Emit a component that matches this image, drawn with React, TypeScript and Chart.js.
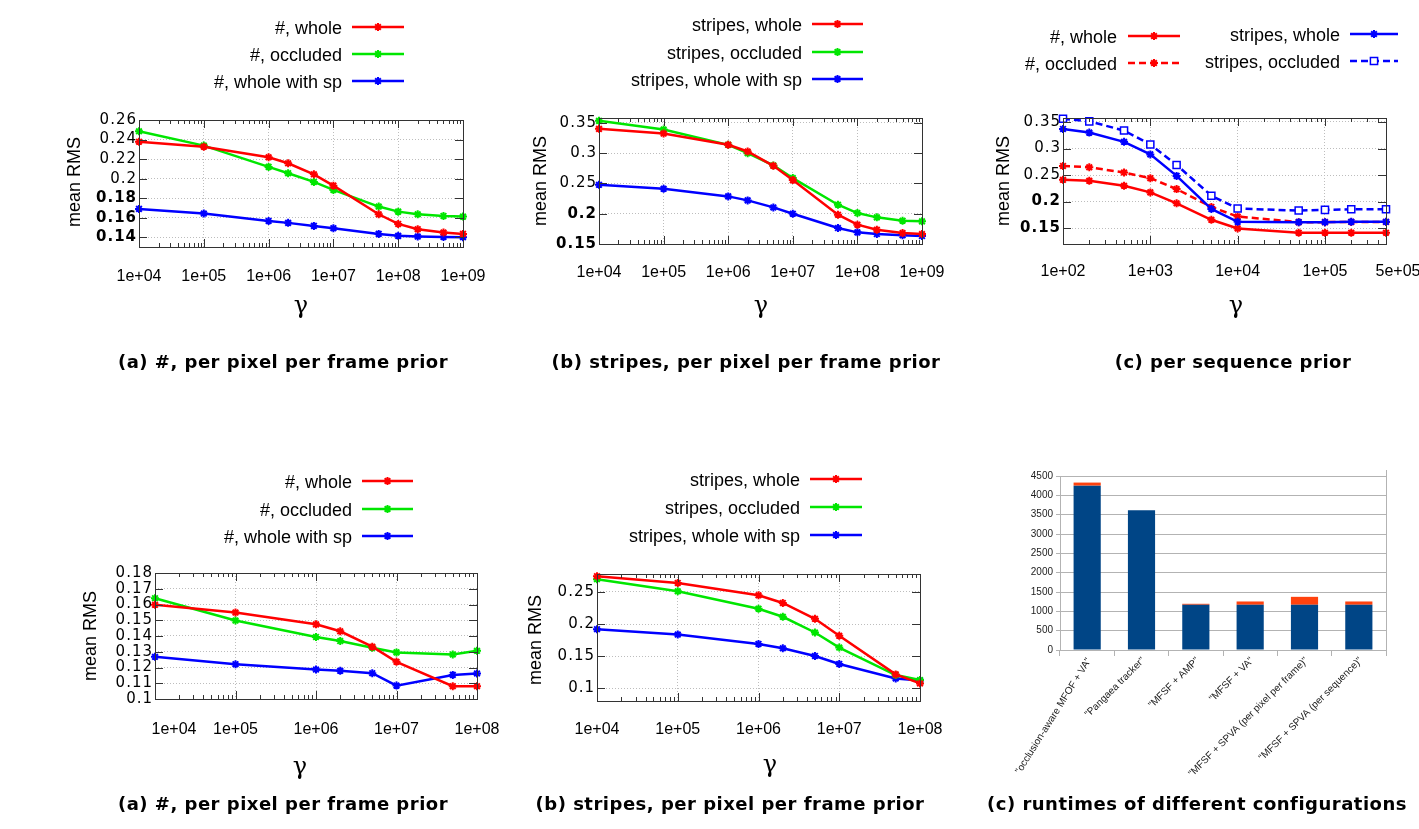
import React, { useEffect, useRef } from 'react';
import { Chart, registerables } from 'chart.js';

Chart.register(...registerables);

// ---------- data ----------
const gammaFrame = [1e4, 1e5, 1e6, 2e6, 5e6, 1e7, 5e7, 1e8, 2e8, 5e8, 1e9];
const hashWholeA = [0.2378, 0.2327, 0.2218, 0.2157, 0.2044, 0.1928, 0.1635, 0.1536, 0.1482, 0.1448, 0.1434];
const hashOccludedA = [0.2484, 0.2338, 0.212, 0.2055, 0.1966, 0.1884, 0.1714, 0.1662, 0.1635, 0.1618, 0.1611];
const hashSpA = [0.169, 0.1642, 0.1567, 0.1547, 0.1516, 0.1492, 0.1434, 0.1414, 0.1407, 0.1403, 0.14];

const stripesWholeB = [0.3401, 0.3324, 0.3137, 0.3027, 0.2791, 0.2555, 0.1984, 0.1819, 0.1736, 0.1681, 0.1665];
const stripesOccludedB = [0.3533, 0.339, 0.3137, 0.3, 0.2797, 0.2588, 0.2148, 0.2011, 0.194, 0.1885, 0.1874];
const stripesSpB = [0.2478, 0.2412, 0.2286, 0.222, 0.2104, 0.2, 0.1764, 0.1692, 0.1665, 0.1643, 0.1632];

const gammaSeq = [100, 200, 500, 1000, 2000, 5000, 1e4, 5e4, 1e5, 2e5, 5e5];
const seqHashWhole = [0.241, 0.2391, 0.2298, 0.2173, 0.1967, 0.1656, 0.1494, 0.1413, 0.1413, 0.1413, 0.1413];
const seqHashOccluded = [0.2671, 0.2646, 0.2547, 0.2441, 0.2235, 0.1899, 0.1718, 0.1612, 0.1612, 0.1615, 0.1615];
const seqStripesWhole = [0.3369, 0.33, 0.3126, 0.2889, 0.2484, 0.1861, 0.1618, 0.1612, 0.1612, 0.1618, 0.1618];
const seqStripesOccluded = [0.3562, 0.3512, 0.3338, 0.3076, 0.269, 0.2111, 0.1868, 0.183, 0.1843, 0.1855, 0.1855];

const gammaFrame2 = [1e4, 1e5, 1e6, 2e6, 5e6, 1e7, 5e7, 1e8];
const hashWholeD = [0.1598, 0.1549, 0.1474, 0.143, 0.1332, 0.1236, 0.1081, 0.1081];
const hashOccludedD = [0.164, 0.1498, 0.1394, 0.1368, 0.1326, 0.1296, 0.1283, 0.1306];
const hashSpD = [0.1268, 0.1221, 0.1187, 0.1179, 0.1164, 0.1085, 0.1153, 0.1162];

const stripesWholeE = [0.2746, 0.2641, 0.2448, 0.2328, 0.2082, 0.1816, 0.1215, 0.1074];
const stripesOccludedE = [0.2699, 0.251, 0.2239, 0.2113, 0.1868, 0.1633, 0.1204, 0.1126];
const stripesSpE = [0.192, 0.1836, 0.169, 0.1622, 0.1502, 0.1377, 0.1152, 0.1121];

const xTicksFrame = [1e4, 1e5, 1e6, 1e7, 1e8, 1e9];
const xLabelsFrame = ['1e+04', '1e+05', '1e+06', '1e+07', '1e+08', '1e+09'];
const xTicksSeq = [1e2, 1e3, 1e4, 1e5, 5e5];
const xLabelsSeq = ['1e+02', '1e+03', '1e+04', '1e+05', '5e+05'];
const xTicksFrame2 = [1e4, 1e5, 1e6, 1e7, 1e8];
const xLabelsFrame2 = ['1e+04', '1e+05', '1e+06', '1e+07', '1e+08'];

const yTicksA = [0.14, 0.16, 0.18, 0.2, 0.22, 0.24, 0.26];
const yLabelsA = ['0.14', '0.16', '0.18', '0.2', '0.22', '0.24', '0.26'];
const yTicksB = [0.15, 0.2, 0.25, 0.3, 0.35];
const yLabelsB = ['0.15', '0.2', '0.25', '0.3', '0.35'];
const yTicksD = [0.1, 0.11, 0.12, 0.13, 0.14, 0.15, 0.16, 0.17, 0.18];
const yLabelsD = ['0.1', '0.11', '0.12', '0.13', '0.14', '0.15', '0.16', '0.17', '0.18'];
const yTicksE = [0.1, 0.15, 0.2, 0.25];
const yLabelsE = ['0.1', '0.15', '0.2', '0.25'];

const configurations = [
  '"occlusion-aware MFOF + VA"',
  '"Pangaea tracker"',
  '"MFSF + AMP"',
  '"MFSF + VA"',
  '"MFSF + SPVA (per pixel per frame)"',
  '"MFSF + SPVA (per sequence)"',
];
const runtimeBase = [4250, 3615, 1170, 1170, 1170, 1170];
const runtimeExtra = [80, 0, 25, 85, 205, 85];
const runtimeTicks = [0, 500, 1000, 1500, 2000, 2500, 3000, 3500, 4000, 4500];
const runtimeTickLabels = ['0', '500', '1000', '1500', '2000', '2500', '3000', '3500', '4000', '4500'];

// ---------- styles / layout ----------
const RED = '#ff0000';
const GREEN = '#00e600';
const BLUE = '#0000ff';
const labelAngles = [58, 45, 45, 45, 45, 45];

type Series = { label: string; values: number[]; color: string; dash?: number[]; point?: string; leg: [number, number, number, number] };
type Panel = {
  box: [number, number, number, number];
  area: [number, number, number, number];
  x: number[];
  xMin: number; xMax: number; xTicks: number[]; xLabels: string[]; xLabelY: number; xShift?: number[];
  yMin: number; yMax: number; yTicks: number[]; yLabels: string[]; yBold: number[];
  yTitle: [number, number]; gamma: [number, number]; title: [string, number, number];
  series: Series[];
};

const panels: Panel[] = [
  {
    box: [0, 0, 495, 400], area: [139, 120, 463, 247], x: gammaFrame,
    xMin: 1e4, xMax: 1e9, xTicks: xTicksFrame, xLabels: xLabelsFrame, xLabelY: 277,
    yMin: 0.13, yMax: 0.26, yTicks: yTicksA, yLabels: yLabelsA, yBold: [1, 1, 1, 0, 0, 0, 0],
    yTitle: [75, 182], gamma: [301, 307], title: ['(a) #, per pixel per frame prior', 283, 363],
    series: [
      { label: '#, whole', values: hashWholeA, color: RED, leg: [342, 352, 404, 27] },
      { label: '#, occluded', values: hashOccludedA, color: GREEN, leg: [342, 352, 404, 54] },
      { label: '#, whole with sp', values: hashSpA, color: BLUE, leg: [342, 352, 404, 81] },
    ],
  },
  {
    box: [495, 0, 485, 400], area: [599, 118, 922, 244], x: gammaFrame,
    xMin: 1e4, xMax: 1e9, xTicks: xTicksFrame, xLabels: xLabelsFrame, xLabelY: 273,
    yMin: 0.15, yMax: 0.358, yTicks: yTicksB, yLabels: yLabelsB, yBold: [1, 1, 0, 0, 0],
    yTitle: [541, 181], gamma: [761, 307], title: ['(b) stripes, per pixel per frame prior', 746, 363],
    series: [
      { label: 'stripes, whole', values: stripesWholeB, color: RED, leg: [802, 812, 863, 24] },
      { label: 'stripes, occluded', values: stripesOccludedB, color: GREEN, leg: [802, 812, 863, 52] },
      { label: 'stripes, whole with sp', values: stripesSpB, color: BLUE, leg: [802, 812, 863, 79] },
    ],
  },
  {
    box: [980, 0, 439, 400], area: [1063, 118, 1386, 244], x: gammaSeq,
    xMin: 100, xMax: 5e5, xTicks: xTicksSeq, xLabels: xLabelsSeq, xLabelY: 272, xShift: [0, 0, 0, 0, 12],
    yMin: 0.12, yMax: 0.3575, yTicks: yTicksB, yLabels: yLabelsB, yBold: [1, 1, 0, 0, 0],
    yTitle: [1004, 181], gamma: [1236, 307], title: ['(c) per sequence prior', 1233, 363],
    series: [
      { label: 'stripes, occluded', values: seqStripesOccluded, color: BLUE, dash: [7, 4], point: 'rect', leg: [1340, 1350, 1398, 61] },
      { label: 'stripes, whole', values: seqStripesWhole, color: BLUE, leg: [1340, 1350, 1398, 34] },
      { label: '#, occluded', values: seqHashOccluded, color: RED, dash: [7, 4], leg: [1117, 1128, 1180, 63] },
      { label: '#, whole', values: seqHashWhole, color: RED, leg: [1117, 1128, 1180, 36] },
    ],
  },
  {
    box: [0, 420, 505, 409], area: [155, 573, 477, 699], x: gammaFrame2,
    xMin: 1e4, xMax: 1e8, xTicks: xTicksFrame2, xLabels: xLabelsFrame2, xLabelY: 730, xShift: [19, 0, 0, 0, 0],
    yMin: 0.1, yMax: 0.18, yTicks: yTicksD, yLabels: yLabelsD, yBold: [0, 0, 0, 0, 0, 0, 0, 0, 0],
    yTitle: [91, 636], gamma: [300, 768], title: ['(a) #, per pixel per frame prior', 283, 805],
    series: [
      { label: '#, whole', values: hashWholeD, color: RED, leg: [352, 362, 413, 481] },
      { label: '#, occluded', values: hashOccludedD, color: GREEN, leg: [352, 362, 413, 509] },
      { label: '#, whole with sp', values: hashSpD, color: BLUE, leg: [352, 362, 413, 536] },
    ],
  },
  {
    box: [505, 420, 470, 409], area: [597, 574, 920, 701], x: gammaFrame2,
    xMin: 1e4, xMax: 1e8, xTicks: xTicksFrame2, xLabels: xLabelsFrame2, xLabelY: 730,
    yMin: 0.08, yMax: 0.278, yTicks: yTicksE, yLabels: yLabelsE, yBold: [0, 0, 0, 0],
    yTitle: [536, 640], gamma: [770, 766], title: ['(b) stripes, per pixel per frame prior', 730, 805],
    series: [
      { label: 'stripes, whole', values: stripesWholeE, color: RED, leg: [800, 810, 862, 479] },
      { label: 'stripes, occluded', values: stripesOccludedE, color: GREEN, leg: [800, 810, 862, 507] },
      { label: 'stripes, whole with sp', values: stripesSpE, color: BLUE, leg: [800, 810, 862, 535] },
    ],
  },
];

function drawMarker(ctx: CanvasRenderingContext2D, style: string | undefined, x: number, y: number, color: string) {
  ctx.save();
  ctx.setLineDash([]);
  ctx.strokeStyle = color;
  ctx.beginPath();
  if (style === 'rect') {
    ctx.lineWidth = 1.5;
    const s = 3.6;
    ctx.fillStyle = '#fff';
    ctx.rect(x - s, y - s, 2 * s, 2 * s);
    ctx.fill();
    ctx.stroke();
  } else {
    ctx.lineWidth = 2;
    const r = 4;
    const d = r * Math.SQRT1_2;
    ctx.moveTo(x - r, y); ctx.lineTo(x + r, y);
    ctx.moveTo(x, y - r); ctx.lineTo(x, y + r);
    ctx.moveTo(x - d, y - d); ctx.lineTo(x + d, y + d);
    ctx.moveTo(x - d, y + d); ctx.lineTo(x + d, y - d);
    ctx.stroke();
  }
  ctx.restore();
}

function drawTitle(ctx: CanvasRenderingContext2D, text: string, x: number, y: number) {
  ctx.save();
  ctx.font = 'bold 18px "DejaVu Sans"';
  (ctx as any).letterSpacing = '0.5px';
  ctx.fillStyle = '#000';
  ctx.textAlign = 'center';
  ctx.textBaseline = 'middle';
  ctx.fillText(text, x, y);
  ctx.restore();
}

function LinePanel({ p }: { p: Panel }) {
  const ref = useRef<HTMLCanvasElement>(null);
  const [cx, cy, cw, ch] = p.box;
  useEffect(() => {
    const [L, T, R, B] = p.area;
    const decor = {
      id: 'decor',
      afterDraw(chart: any) {
        const ctx: CanvasRenderingContext2D = chart.ctx;
        const a = chart.chartArea;
        const xs = chart.scales.x;
        const ys = chart.scales.y;
        ctx.save();
        ctx.setLineDash([]);
        ctx.strokeStyle = '#333';
        ctx.lineWidth = 1;
        ctx.beginPath();
        const d0 = Math.floor(Math.log10(p.xMin));
        const d1 = Math.ceil(Math.log10(p.xMax));
        for (let d = d0; d <= d1; d++) {
          for (let m = 1; m <= 9; m++) {
            const v = m * Math.pow(10, d);
            if (v < p.xMin * 0.999 || v > p.xMax * 1.001) continue;
            const px = Math.round(xs.getPixelForValue(v)) + 0.5;
            const len = m === 1 ? 8 : 4;
            ctx.moveTo(px, a.bottom); ctx.lineTo(px, a.bottom - len);
            ctx.moveTo(px, a.top); ctx.lineTo(px, a.top + len);
          }
        }
        p.yTicks.forEach((v) => {
          const py = Math.round(ys.getPixelForValue(v)) + 0.5;
          ctx.moveTo(a.left, py); ctx.lineTo(a.left + 8, py);
          ctx.moveTo(a.right, py); ctx.lineTo(a.right - 8, py);
        });
        ctx.stroke();
        ctx.strokeRect(Math.round(a.left) + 0.5, Math.round(a.top) + 0.5, Math.round(a.right - a.left), Math.round(a.bottom - a.top));

        ctx.fillStyle = '#000';
        ctx.save();
        (ctx as any).letterSpacing = '1px';
        ctx.textAlign = 'right';
        ctx.textBaseline = 'middle';
        p.yTicks.forEach((v, i) => {
          ctx.font = (p.yBold[i] ? 'bold ' : '') + '15px "DejaVu Sans"';
          ctx.fillText(p.yLabels[i], a.left - 2, ys.getPixelForValue(v));
        });
        ctx.restore();

        ctx.font = '16px "Liberation Sans"';
        ctx.textAlign = 'center';
        ctx.textBaseline = 'middle';
        p.xTicks.forEach((v, i) => {
          ctx.fillText(p.xLabels[i], xs.getPixelForValue(v) + (p.xShift ? p.xShift[i] : 0), p.xLabelY - cy);
        });

        ctx.save();
        ctx.translate(p.yTitle[0] - cx, p.yTitle[1] - cy);
        ctx.rotate(-Math.PI / 2);
        ctx.font = '18px "Liberation Sans"';
        ctx.fillText('mean RMS', 0, 0);
        ctx.restore();

        ctx.font = '24px "DejaVu Serif"';
        ctx.fillText('γ', p.gamma[0] - cx, p.gamma[1] - cy);

        p.series.forEach((s) => {
          const [tx, l1, l2, ly] = s.leg;
          ctx.font = '18px "Liberation Sans"';
          ctx.fillStyle = '#000';
          ctx.textAlign = 'right';
          ctx.fillText(s.label, tx - cx, ly - cy + 2);
          ctx.save();
          ctx.strokeStyle = s.color;
          ctx.lineWidth = 2.5;
          ctx.setLineDash(s.dash || []);
          ctx.beginPath();
          ctx.moveTo(l1 - cx, ly - cy);
          ctx.lineTo(l2 - cx, ly - cy);
          ctx.stroke();
          ctx.restore();
          drawMarker(ctx, s.point, (l1 + l2) / 2 - cx, ly - cy, s.color);
        });
        ctx.restore();
        drawTitle(ctx, p.title[0], p.title[1] - cx, p.title[2] - cy);
      },
    };

    const chart = new Chart(ref.current as HTMLCanvasElement, {
      type: 'line',
      data: {
        datasets: p.series.map((s) => ({
          label: s.label,
          data: p.x.map((x, i) => ({ x, y: s.values[i] })),
          borderColor: s.color,
          backgroundColor: s.color,
          borderWidth: 2.5,
          borderDash: s.dash || [],
          pointStyle: s.point === 'rect' ? 'rect' : 'star',
          pointRadius: s.point === 'rect' ? 5 : 4,
          pointBorderWidth: s.point === 'rect' ? 1.5 : 2,
          pointBackgroundColor: s.point === 'rect' ? '#ffffff' : s.color,
          pointBorderColor: s.color,
          tension: 0,
          clip: false as any,
        })),
      },
      options: {
        responsive: false,
        animation: false,
        events: [],
        layout: { padding: { left: 0, top: T - cy, right: cx + cw - R, bottom: 0 } },
        plugins: { legend: { display: false }, tooltip: { enabled: false }, title: { display: false } },
        scales: {
          x: {
            type: 'logarithmic',
            min: p.xMin,
            max: p.xMax,
            afterBuildTicks: (s: any) => { s.ticks = p.xTicks.map((v) => ({ value: v })); },
            afterFit: (s: any) => { s.height = cy + ch - B; s.paddingLeft = 0; s.paddingRight = 0; },
            ticks: { display: false },
            grid: { color: '#bdbdbd', lineWidth: 1, drawTicks: false },
            border: { display: false, dash: [1, 2] },
          },
          y: {
            type: 'linear',
            min: p.yMin,
            max: p.yMax,
            afterBuildTicks: (s: any) => { s.ticks = p.yTicks.map((v) => ({ value: v })); },
            afterFit: (s: any) => { s.width = L - cx; s.paddingTop = 0; s.paddingBottom = 0; },
            ticks: { display: false },
            grid: { color: '#bdbdbd', lineWidth: 1, drawTicks: false },
            border: { display: false, dash: [1, 2] },
          },
        },
      } as any,
      plugins: [decor],
    });
    return () => chart.destroy();
  }, []);
  return <canvas ref={ref} width={cw} height={ch} style={{ position: 'absolute', left: cx, top: cy, width: cw, height: ch }} />;
}

function RuntimePanel() {
  const ref = useRef<HTMLCanvasElement>(null);
  const box = [975, 440, 444, 389];
  const area = [1060, 476, 1386, 650];
  useEffect(() => {
    const [cx, cy, cw, ch] = box;
    const [L, T, R, B] = area;
    const decor = {
      id: 'decorBar',
      afterDraw(chart: any) {
        const ctx: CanvasRenderingContext2D = chart.ctx;
        const a = chart.chartArea;
        const xs = chart.scales.x;
        ctx.save();
        ctx.strokeStyle = '#b3b3b3';
        ctx.lineWidth = 1;
        ctx.beginPath();
        const rx = Math.round(a.right) + 0.5;
        ctx.moveTo(rx, a.top - 6);
        ctx.lineTo(rx, a.bottom + 6);
        ctx.stroke();
        ctx.fillStyle = '#222';
        ctx.font = '10px "Liberation Sans"';
        ctx.textAlign = 'right';
        ctx.textBaseline = 'middle';
        configurations.forEach((lab, i) => {
          const px = xs.getPixelForTick(i);
          ctx.save();
          ctx.translate(px + 2, a.bottom + 9);
          ctx.rotate((-labelAngles[i] * Math.PI) / 180);
          ctx.fillText(lab, 0, 0);
          ctx.restore();
        });
        ctx.restore();
        drawTitle(ctx, '(c) runtimes of different configurations', 1197 - cx, 805 - cy);
      },
    };
    const chart = new Chart(ref.current as HTMLCanvasElement, {
      type: 'bar',
      data: {
        labels: configurations,
        datasets: [
          { label: 'base', data: runtimeBase, backgroundColor: '#004586', borderWidth: 0 },
          { label: 'extra', data: runtimeExtra, backgroundColor: '#ff420e', borderWidth: 0 },
        ],
      },
      options: {
        responsive: false,
        animation: false,
        events: [],
        layout: { padding: { left: 0, top: T - cy, right: cx + cw - R, bottom: 0 } },
        plugins: { legend: { display: false }, tooltip: { enabled: false }, title: { display: false } },
        datasets: { bar: { barPercentage: 0.5, categoryPercentage: 1 } },
        scales: {
          x: {
            stacked: true,
            afterFit: (s: any) => { s.height = cy + ch - B; s.paddingLeft = 0; s.paddingRight = 0; },
            ticks: { display: false },
            grid: { offset: true, drawOnChartArea: false, drawTicks: true, tickLength: 6, color: '#b3b3b3' },
            border: { display: true, color: '#b3b3b3' },
          },
          y: {
            stacked: true,
            min: 0,
            max: 4500,
            afterBuildTicks: (s: any) => { s.ticks = runtimeTicks.map((v) => ({ value: v })); },
            afterFit: (s: any) => { s.width = L - cx; },
            ticks: {
              autoSkip: false, padding: 3, color: '#222', font: { family: 'Liberation Sans', size: 10 },
              callback: (_v: any, i: number) => runtimeTickLabels[i],
            },
            grid: { color: '#b3b3b3', drawTicks: true, tickLength: 4 },
            border: { display: true, color: '#b3b3b3' },
          },
        },
      } as any,
      plugins: [decor],
    });
    return () => chart.destroy();
  }, []);
  return <canvas ref={ref} width={box[2]} height={box[3]} style={{ position: 'absolute', left: box[0], top: box[1], width: box[2], height: box[3] }} />;
}

export default function App() {
  return (
    <div style={{ position: 'absolute', left: 0, top: 0, width: 1419, height: 829, background: '#fff', overflow: 'hidden' }}>
      {panels.map((p, i) => <LinePanel key={i} p={p} />)}
      <RuntimePanel />
    </div>
  );
}
